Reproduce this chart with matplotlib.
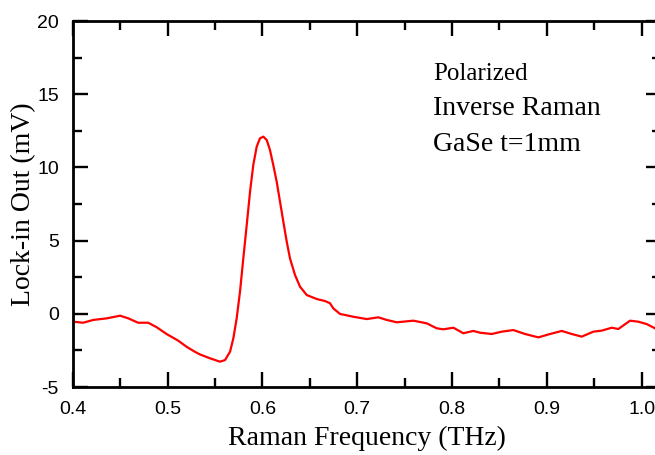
import matplotlib
matplotlib.use("Agg")
import matplotlib.pyplot as plt
from matplotlib.ticker import MultipleLocator, FormatStrFormatter

plt.rcParams['axes.unicode_minus'] = False

# Raman frequency (THz) and lock-in output (mV)
freq = [0.4006, 0.411, 0.4217, 0.436, 0.45, 0.4586, 0.469, 0.4797, 0.4886, 0.499,
        0.5114, 0.520, 0.529, 0.5343, 0.5448, 0.5553, 0.5606, 0.5659, 0.5694, 0.5729,
        0.5764, 0.5799, 0.5835, 0.587, 0.5904, 0.594, 0.5975, 0.601, 0.6046, 0.608,
        0.6115, 0.6151, 0.6186, 0.6221, 0.6257, 0.6291, 0.6344, 0.6397, 0.6468, 0.6573,
        0.6661, 0.6713, 0.6748, 0.6819, 0.6959, 0.710, 0.7223, 0.7311, 0.7417,
        0.7592, 0.7733, 0.7838, 0.7908, 0.8014, 0.8119, 0.8224, 0.8295, 0.8418, 0.8524,
        0.8646, 0.877, 0.891, 0.9033, 0.9157, 0.9262, 0.9367, 0.949, 0.9578, 0.9684,
        0.9753, 0.9877, 0.9964, 1.0052, 1.014]
signal = [-0.54, -0.61, -0.42, -0.31, -0.13, -0.31, -0.61, -0.61, -0.92, -1.38,
          -1.84, -2.25, -2.60, -2.78, -3.04, -3.27, -3.16, -2.59, -1.67, -0.31,
          1.51, 3.79, 6.07, 8.34, 10.16, 11.41, 11.99, 12.10, 11.87, 11.19,
          10.16, 9.02, 7.66, 6.29, 4.92, 3.79, 2.65, 1.85, 1.28, 1.01,
          0.87, 0.72, 0.37, -0.01, -0.2, -0.36, -0.24, -0.42, -0.58,
          -0.47, -0.65, -0.99, -1.06, -0.95, -1.33, -1.17, -1.29, -1.38, -1.22,
          -1.11, -1.38, -1.61, -1.38, -1.17, -1.38, -1.56, -1.22, -1.15, -0.95,
          -1.04, -0.47, -0.54, -0.7, -0.99]

annotations = ["Polarized", "Inverse Raman", "GaSe t=1mm"]

W, H = 655, 455
fig = plt.figure(figsize=(W / 100, H / 100), dpi=100)
ax_l, ax_r, ax_t, ax_b = 72.7, 660.7, 21.0, 387.0
ax = fig.add_axes([ax_l / W, 1 - ax_b / H, (ax_r - ax_l) / W, (ax_b - ax_t) / H])

ax.plot(freq, signal, color='#ff0000', lw=1.6, solid_joinstyle='round')

ax.set_xlim(0.4, 1.02)
ax.set_ylim(-5, 20)
ax.xaxis.set_major_locator(MultipleLocator(0.1))
ax.xaxis.set_minor_locator(MultipleLocator(0.05))
ax.yaxis.set_major_locator(MultipleLocator(5))
ax.yaxis.set_minor_locator(MultipleLocator(2.5))
ax.xaxis.set_major_formatter(FormatStrFormatter('%.1f'))

for s in ax.spines.values():
    s.set_linewidth(2.0)
ax.tick_params(which='both', direction='in', top=True, right=True, width=1.7,
               labelsize=14, labelfontfamily='Liberation Sans', color='black')
ax.tick_params(which='major', length=10.5)
ax.tick_params(which='minor', length=6.5)
ax.tick_params(axis='y', pad=10)
ax.tick_params(axis='x', pad=10)

ax.set_xlabel("Raman Frequency (THz)", family='Liberation Serif', fontsize=20, labelpad=6)
ax.set_ylabel("Lock-in Out (mV)", family='Liberation Serif', fontsize=20, labelpad=0.5)

sizes = [18, 20, 20]
baselines = [79.5, 115, 151]
for t, s, b in zip(annotations, sizes, baselines):
    fig.text(433 / W, 1 - b / H, t, family='Liberation Serif', fontsize=s,
             va='baseline', ha='left')

fig.savefig("out.png", dpi=100)
